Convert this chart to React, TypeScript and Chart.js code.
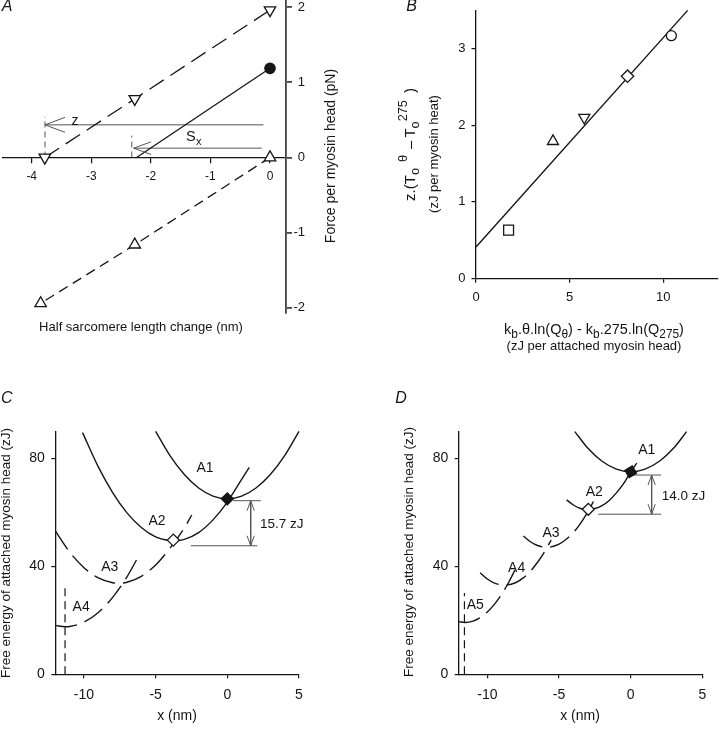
import React, { useEffect, useRef } from 'react';
import { Chart, registerables } from 'chart.js';

Chart.register(...registerables);

const FONT = '"Liberation Sans", Arial, Helvetica, sans-serif';
const INK = '#151515';
const GREY = '#555555';

// ---------------- Panel A ----------------
const A_X_TICKS = [-4, -3, -2, -1, 0];
const A_Y_TICKS = [-2, -1, 0, 1, 2];
const A_DOWN_X = [-3.78, -2.27, 0];
const A_DOWN_Y = [0, 0.78, 1.96];
const A_SOLID_X = [-2.24, 0];
const A_SOLID_Y = [0, 1.186];
const A_UP_X = [0, -2.27, -3.85];
const A_UP_Y = [0, -1.16, -1.94];
const A_Z_X = [-3.777, -0.11];
const A_Z_Y = [0.434, 0.434];
const A_SX_X = [-2.29, -0.14];
const A_SX_Y = [0.124, 0.124];
const A_ZDROP_X = [-3.777, -3.777];
const A_ZDROP_Y = [0, 0.54];
const A_SXDROP_X = [-2.32, -2.32];
const A_SXDROP_Y = [0, 0.29];

// ---------------- Panel B ----------------
const B_X_TICKS = [0, 5, 10];
const B_Y_TICKS = [0, 1, 2, 3];
const B_SQUARE = [1.74, 0.63];
const B_UPTRI = [4.11, 1.79];
const B_DOWNTRI = [5.78, 2.1];
const B_DIAMOND = [8.09, 2.64];
const B_CIRCLE = [10.43, 3.17];
const B_FIT_X = [0, 11.3];
const B_FIT_Y = [0.41, 3.5];

// ---------------- Panel C ----------------
const E_X_TICKS = [-10, -5, 0, 5];
const E_Y_TICKS = [0, 40, 80];
const C_A1_X = [-5, -4, -3, -2, -1, 0, 1, 2, 3, 4, 5];
const C_A1_Y = [90, 81, 74, 69, 66, 65, 66, 69, 74, 81, 90];
const C_A2_X = [-10.1, -9, -8, -7, -6, -5, -4, -3.77, -3, -2, -1, 0, 1, 1.53];
const C_A2_Y = [89.5, 76.8, 67.3, 59.8, 54.4, 50.9, 49.5, 49.4, 50, 52.5, 57.2, 63.8, 72.2, 76.6];
const C_A3_X = [-12, -11, -10, -9, -8, -7.6, -7, -6, -5, -4, -3, -2.48];
const C_A3_Y = [53.1, 45.3, 39.5, 35.7, 33.9, 33.7, 34.1, 36.3, 40.5, 46.7, 54.2, 59];
const C_A4_X = [-12, -11.3, -11, -10, -9, -8, -7, -6.28];
const C_A4_Y = [18.1, 17.6, 17.7, 19.3, 22.9, 28.5, 36.1, 42.9];
const C_DROP_X = [-11.32, -11.32];
const C_DROP_Y = [0, 33.4];
const C_TOP_X = [0.4, 2.33];
const C_TOP_Y = [64.3, 64.3];
const C_BOT_X = [-2.55, 2.1];
const C_BOT_Y = [47.6, 47.6];
const C_ARROW_X = [1.63, 1.63];
const C_ARROW_Y = [64.3, 47.6];
const C_FILLED = [0, 65];
const C_OPEN = [-3.77, 49.7];

// ---------------- Panel D ----------------
const D_A1_X = [-3.9, -3, -2, -1, 0, 1, 2, 3, 3.9];
const D_A1_Y = [89.9, 83.8, 78.9, 76, 75, 76, 78.9, 83.8, 89.9];
const D_A2_X = [-4.47, -4, -3.5, -2.97, -2.5, -2, -1.5, -1, -0.5, 0, 0.42];
const D_A2_Y = [64.6, 62.7, 61.4, 61, 61.4, 62.5, 64.4, 67.2, 70.6, 75, 78.2];
const D_A3_X = [-7.49, -7, -6.5, -5.86, -5, -4.5, -4, -3.5, -3, -2.6];
const D_A3_Y = [51.2, 49.1, 47.7, 47, 48.2, 50, 52.5, 55.9, 60.1, 64];
const D_A4_X = [-10.5, -10, -9.5, -8.8, -8, -7.5, -7, -6.5, -6, -5.55];
const D_A4_Y = [37.6, 35.3, 33.8, 33, 34, 35.7, 38.2, 41.5, 45.5, 49.7];
const D_A5_X = [-12, -11.56, -11, -10.5, -10, -9.5, -9, -8.5, -7.95];
const D_A5_Y = [19.5, 19.2, 19.7, 21, 23.1, 26, 29.7, 34.2, 40];
const D_DROP_X = [-11.6, -11.6];
const D_DROP_Y = [0, 30.1];
const D_TOP_X = [0.18, 2.12];
const D_TOP_Y = [73.8, 73.8];
const D_BOT_X = [-2.26, 2.12];
const D_BOT_Y = [59.3, 59.3];
const D_ARROW_X = [1.46, 1.46];
const D_ARROW_Y = [73.8, 59.3];
const D_FILLED = [0, 75];
const D_OPEN = [-2.96, 61.1];

// ---------------- helpers ----------------
const pts = (xs: number[], ys: number[]) => xs.map((x, i) => ({ x, y: ys[i] }));
const pt = (p: number[]) => [{ x: p[0], y: p[1] }];

function axis(o: any) {
  return {
    type: 'linear',
    position: o.position,
    min: o.min,
    max: o.max,
    afterBuildTicks: (s: any) => {
      s.ticks = o.ticks.map((v: number) => ({ value: v }));
    },
    afterFit: (s: any) => {
      if (o.size !== undefined) {
        if (s.isHorizontal()) s.height = o.size;
        else s.width = o.size;
      }
      s.paddingTop = 0;
      s.paddingBottom = 0;
      s.paddingLeft = 0;
      s.paddingRight = 0;
    },
    grid: {
      drawOnChartArea: false,
      drawTicks: true,
      tickLength: o.tickLen,
      tickColor: o.color ?? INK,
      tickWidth: o.width ?? 1.2,
      color: o.color ?? INK,
      lineWidth: o.width ?? 1.2,
    },
    border: { display: true, color: o.color ?? INK, width: o.width ?? 1.3 },
    ticks: {
      color: INK,
      font: { family: FONT, size: o.font },
      padding: o.pad,
      crossAlign: o.crossAlign ?? 'near',
      maxRotation: 0,
      minRotation: 0,
      autoSkip: false,
      includeBounds: false,
    },
  };
}

function line(data: any[], extra: any = {}) {
  return {
    data,
    borderColor: INK,
    borderWidth: 1.3,
    pointRadius: 0,
    fill: false,
    tension: 0,
    clip: false,
    ...extra,
  };
}

function curve(xs: number[], ys: number[], dashed: boolean) {
  return line(pts(xs, ys), {
    cubicInterpolationMode: 'monotone',
    borderDash: dashed ? [22, 8] : [],
    borderWidth: 1.4,
  });
}

function marker(p: number[], style: string, r: number, filled: boolean, rot = 0) {
  return line(pt(p), {
    pointStyle: style,
    pointRadius: r,
    pointRotation: rot,
    pointBackgroundColor: filled ? INK : '#ffffff',
    pointBorderColor: INK,
    pointBorderWidth: 1.3,
    showLine: false,
  });
}

type Seg = { t?: string; k?: 'sub' | 'sup'; g?: number };

function drawRich(
  ctx: CanvasRenderingContext2D,
  segs: Seg[],
  cx: number,
  cy: number,
  size: number,
  rotate: boolean,
  ratio = 0.8
) {
  ctx.save();
  ctx.translate(cx, cy);
  if (rotate) ctx.rotate(-Math.PI / 2);
  const small = size * ratio;
  const widthOf = (s: Seg) => {
    if (s.g !== undefined) return s.g;
    ctx.font = `${s.k ? small : size}px ${FONT}`;
    return ctx.measureText(s.t || '').width;
  };
  let total = 0;
  for (const s of segs) total += widthOf(s);
  let x = -total / 2;
  ctx.textBaseline = 'middle';
  ctx.textAlign = 'left';
  ctx.fillStyle = INK;
  for (const s of segs) {
    const w = widthOf(s);
    if (s.t) {
      ctx.font = `${s.k ? small : size}px ${FONT}`;
      const dy = s.k === 'sub' ? size * 0.33 : s.k === 'sup' ? -size * 0.45 : 0;
      ctx.fillText(s.t, x, dy);
    }
    x += w;
  }
  ctx.restore();
}

function text(ctx: CanvasRenderingContext2D, t: string, x: number, y: number, size: number, opts: any = {}) {
  ctx.save();
  ctx.font = `${opts.italic ? 'italic ' : ''}${size}px ${FONT}`;
  ctx.fillStyle = INK;
  ctx.textAlign = opts.align ?? 'center';
  ctx.textBaseline = 'middle';
  ctx.translate(x, y);
  if (opts.rotate) ctx.rotate(-Math.PI / 2);
  ctx.fillText(t, 0, 0);
  ctx.restore();
}

function arrowHead(ctx: CanvasRenderingContext2D, x: number, y: number, dx: number, dy: number, len: number, half: number) {
  const bx = x - dx * len;
  const by = y - dy * len;
  const px = -dy;
  const py = dx;
  ctx.beginPath();
  ctx.moveTo(bx + px * half, by + py * half);
  ctx.lineTo(x, y);
  ctx.lineTo(bx - px * half, by - py * half);
  ctx.stroke();
}

const baseOptions = (padding: any, scales: any) => ({
  responsive: false,
  maintainAspectRatio: false,
  animation: false,
  devicePixelRatio: 1,
  events: [],
  layout: { padding, autoPadding: false },
  plugins: { legend: { display: false }, tooltip: { enabled: false }, title: { display: false } },
  scales,
});

// ---------------- configs ----------------
function configA(): any {
  return {
    type: 'line',
    data: {
      datasets: [
        line(pts(A_DOWN_X, A_DOWN_Y), {
          borderDash: [17, 8],
          pointStyle: 'triangle',
          pointRotation: 180,
          pointRadius: 6.6,
          pointBackgroundColor: '#fff',
          pointBorderColor: INK,
          pointBorderWidth: 1.3,
        }),
        line(pts(A_UP_X, A_UP_Y), {
          borderDash: [10, 6],
          pointStyle: 'triangle',
          pointRadius: 6.6,
          pointBackgroundColor: '#fff',
          pointBorderColor: INK,
          pointBorderWidth: 1.3,
        }),
        line(pts(A_SOLID_X, A_SOLID_Y), {
          pointRadius: [0, 5.2],
          pointBackgroundColor: INK,
          pointBorderColor: INK,
        }),
        line(pts(A_Z_X, A_Z_Y), { borderColor: GREY, borderWidth: 1 }),
        line(pts(A_SX_X, A_SX_Y), { borderColor: GREY, borderWidth: 1 }),
        line(pts(A_ZDROP_X, A_ZDROP_Y), { borderColor: GREY, borderWidth: 1, borderDash: [6, 4] }),
        line(pts(A_SXDROP_X, A_SXDROP_Y), { borderColor: GREY, borderWidth: 1, borderDash: [6, 4] }),
      ],
    },
    options: baseOptions(
      { left: 3, right: 415, top: 1, bottom: 420 },
      {
        x: axis({ position: { y: 0 }, min: -4.482, max: 0.2686, ticks: A_X_TICKS, tickLen: 5, pad: 7, font: 12 }),
        y: axis({
          position: 'right', min: -2.068, max: 2.081, ticks: A_Y_TICKS, size: 19, tickLen: 6, pad: 1.5,
          font: 13, color: '#444', width: 1.8, crossAlign: 'far',
        }),
      }
    ),
    plugins: [
      {
        id: 'decorA',
        afterDraw(chart: any) {
          const { ctx } = chart;
          const sx = chart.scales.x;
          const sy = chart.scales.y;
          ctx.save();
          ctx.strokeStyle = GREY;
          ctx.lineWidth = 1;
          arrowHead(ctx, sx.getPixelForValue(A_Z_X[0]), sy.getPixelForValue(A_Z_Y[0]), -1, 0, 20, 7.5);
          arrowHead(ctx, sx.getPixelForValue(A_SX_X[0]), sy.getPixelForValue(A_SX_Y[0]), -1, 0, 17.5, 6.3);
          ctx.restore();
          text(ctx, 'z', sx.getPixelForValue(-3.273), sy.getPixelForValue(0.49), 14);
          const sX = sx.getPixelForValue(-1.329);
          const sY = sy.getPixelForValue(0.277);
          text(ctx, 'S', sX, sY, 14.5);
          text(ctx, 'x', sX + 7.8, sY + 5, 11);
          text(ctx, 'A', 7, 7, 16, { italic: true });
          text(ctx, 'Force per myosin head (pN)', 331.5, 156, 14, { rotate: true });
          text(ctx, 'Half sarcomere length change (nm)', 141, 327, 13);
        },
      },
    ],
  };
}

function configB(): any {
  return {
    type: 'line',
    data: {
      datasets: [
        marker(B_SQUARE, 'rect', 7, false),
        marker(B_UPTRI, 'triangle', 6.4, false),
        marker(B_DOWNTRI, 'triangle', 6.4, false, 180),
        marker(B_DIAMOND, 'rectRot', 6.2, false),
        marker(B_CIRCLE, 'circle', 5, false),
        line(pts(B_FIT_X, B_FIT_Y), { borderWidth: 1.4 }),
      ],
    },
    options: baseOptions(
      { left: 426, right: 2, top: 10.4, bottom: 424.7 },
      {
        x: axis({ position: 'bottom', min: 0, max: 12.92, ticks: B_X_TICKS, size: 30, tickLen: 4.5, pad: 7, font: 13 }),
        y: axis({ position: 'left', min: 0, max: 3.5, ticks: B_Y_TICKS, size: 50, tickLen: 4.5, pad: 6, font: 13 }),
      }
    ),
    plugins: [
      {
        id: 'decorB',
        afterDraw(chart: any) {
          const { ctx } = chart;
          text(ctx, 'B', 411.7, 6.7, 16, { italic: true });
          drawRich(
            ctx,
            [
              { t: 'z.(T' },
              { t: 'o', k: 'sub' },
              { g: 6 },
              { t: 'θ', k: 'sup' },
              { g: 6 },
              { t: '–' },
              { g: 3 },
              { t: 'T' },
              { t: 'o', k: 'sub' },
              { t: '275', k: 'sup' },
              { g: 7 },
              { t: ')' },
            ],
            410.5,
            144.5,
            15,
            true,
            0.85
          );
          text(ctx, '(zJ per myosin heat)', 434, 154, 13, { rotate: true });
          drawRich(
            ctx,
            [
              { t: 'k' },
              { t: 'b', k: 'sub' },
              { t: '.θ.ln(Q' },
              { t: 'θ', k: 'sub' },
              { t: ') - k' },
              { t: 'b', k: 'sub' },
              { t: '.275.ln(Q' },
              { t: '275', k: 'sub' },
              { t: ')' },
            ],
            594,
            330,
            14.5,
            false,
            0.82
          );
          text(ctx, '(zJ per attached myosin head)', 594, 346, 13);
        },
      },
    ],
  };
}

function energyConfig(
  curves: any[],
  drop: number[][],
  top: number[][],
  bot: number[][],
  arrow: number[][],
  filled: number[],
  open: number[],
  filledRot: number,
  padding: any,
  decor: (chart: any) => void
): any {
  return {
    type: 'line',
    data: {
      datasets: [
        marker(filled, 'rectRot', 6, true, filledRot),
        marker(open, 'rectRot', 6, false),
        ...curves,
        line(pts(drop[0], drop[1]), { borderDash: [8, 5], borderWidth: 1.2 }),
        line(pts(top[0], top[1]), { borderColor: GREY, borderWidth: 1 }),
        line(pts(bot[0], bot[1]), { borderColor: GREY, borderWidth: 1 }),
        line(pts(arrow[0], arrow[1]), { borderColor: GREY, borderWidth: 1 }),
      ],
    },
    options: baseOptions(padding, {
      x: axis({ position: 'bottom', min: -12, max: 5, ticks: E_X_TICKS, size: 30, tickLen: 4, pad: 8, font: 14 }),
      y: axis({ position: 'left', min: 0, max: 90, ticks: E_Y_TICKS, size: 45, tickLen: 4, pad: 6.5, font: 14 }),
    }),
    plugins: [
      {
        id: 'decorE',
        afterDraw(chart: any) {
          const { ctx } = chart;
          const sx = chart.scales.x;
          const sy = chart.scales.y;
          ctx.save();
          ctx.strokeStyle = GREY;
          ctx.lineWidth = 1;
          const ax = sx.getPixelForValue(arrow[0][0]);
          arrowHead(ctx, ax, sy.getPixelForValue(arrow[1][0]), 0, -1, 10, 3.6);
          arrowHead(ctx, ax, sy.getPixelForValue(arrow[1][1]), 0, 1, 10, 3.6);
          ctx.restore();
          decor(chart);
        },
      },
    ],
  };
}

function configC(): any {
  return energyConfig(
    [
      curve(C_A1_X, C_A1_Y, false),
      curve(C_A2_X, C_A2_Y, false),
      curve(C_A3_X, C_A3_Y, true),
      curve(C_A4_X, C_A4_Y, true),
    ],
    [C_DROP_X, C_DROP_Y],
    [C_TOP_X, C_TOP_Y],
    [C_BOT_X, C_BOT_Y],
    [C_ARROW_X, C_ARROW_Y],
    C_FILLED,
    C_OPEN,
    0,
    { left: 10.3, right: 421, top: 431.3, bottom: 28.7 },
    (chart: any) => {
      const { ctx } = chart;
      const sx = chart.scales.x;
      const sy = chart.scales.y;
      const P = (x: number, y: number) => [sx.getPixelForValue(x), sy.getPixelForValue(y)];
      const lab = (t: string, x: number, y: number) => {
        const [px, py] = P(x, y);
        text(ctx, t, px, py, 14);
      };
      lab('A1', -1.56, 76.3);
      lab('A2', -4.9, 56.7);
      lab('A3', -8.2, 39.7);
      lab('A4', -10.2, 24.9);
      const [tx, ty] = P(2.28, 55.7);
      text(ctx, '15.7 zJ', tx, ty, 13.5, { align: 'left' });
      text(ctx, 'C', 6.7, 399, 16, { italic: true });
      text(ctx, 'Free energy of attached myosin head (zJ)', 6.5, 553, 13.5, { rotate: true });
      text(ctx, 'x (nm)', 177, 716, 14);
    }
  );
}

function configD(): any {
  return energyConfig(
    [
      curve(D_A1_X, D_A1_Y, false),
      curve(D_A2_X, D_A2_Y, false),
      curve(D_A3_X, D_A3_Y, true),
      curve(D_A4_X, D_A4_Y, true),
      curve(D_A5_X, D_A5_Y, true),
    ],
    [D_DROP_X, D_DROP_Y],
    [D_TOP_X, D_TOP_Y],
    [D_BOT_X, D_BOT_Y],
    [D_ARROW_X, D_ARROW_Y],
    D_FILLED,
    D_OPEN,
    15,
    { left: 413.7, right: 17.6, top: 431.3, bottom: 28.7 },
    (chart: any) => {
      const { ctx } = chart;
      const sx = chart.scales.x;
      const sy = chart.scales.y;
      const P = (x: number, y: number) => [sx.getPixelForValue(x), sy.getPixelForValue(y)];
      const lab = (t: string, x: number, y: number) => {
        const [px, py] = P(x, y);
        text(ctx, t, px, py, 14);
      };
      lab('A1', 1.12, 83.1);
      lab('A2', -2.54, 67.3);
      lab('A3', -5.56, 52.2);
      lab('A4', -7.96, 39.3);
      lab('A5', -10.84, 25.7);
      const [tx, ty] = P(2.16, 65.8);
      text(ctx, '14.0 zJ', tx, ty, 13.5, { align: 'left' });
      text(ctx, 'D', 401, 399, 16, { italic: true });
      text(ctx, 'Free energy of attached myosin head (zJ)', 409.5, 552, 13.5, { rotate: true });
      text(ctx, 'x (nm)', 580, 716, 14);
    }
  );
}

export default function App() {
  const r1 = useRef<HTMLCanvasElement>(null);
  const r2 = useRef<HTMLCanvasElement>(null);
  const r3 = useRef<HTMLCanvasElement>(null);
  const r4 = useRef<HTMLCanvasElement>(null);

  useEffect(() => {
    const charts: Chart[] = [];
    const pairs: [React.RefObject<HTMLCanvasElement>, () => any][] = [
      [r1, configA],
      [r2, configB],
      [r3, configC],
      [r4, configD],
    ];
    for (const [ref, cfg] of pairs) {
      if (ref.current) charts.push(new Chart(ref.current, cfg()));
    }
    return () => charts.forEach((c) => c.destroy());
  }, []);

  const style: React.CSSProperties = { position: 'absolute', left: 0, top: 0, width: 720, height: 733 };
  return (
    <div style={{ position: 'absolute', left: 0, top: 0, width: 720, height: 733, background: '#ffffff', overflow: 'hidden' }}>
      <canvas ref={r1} width={720} height={733} style={style} />
      <canvas ref={r2} width={720} height={733} style={style} />
      <canvas ref={r3} width={720} height={733} style={style} />
      <canvas ref={r4} width={720} height={733} style={style} />
    </div>
  );
}
